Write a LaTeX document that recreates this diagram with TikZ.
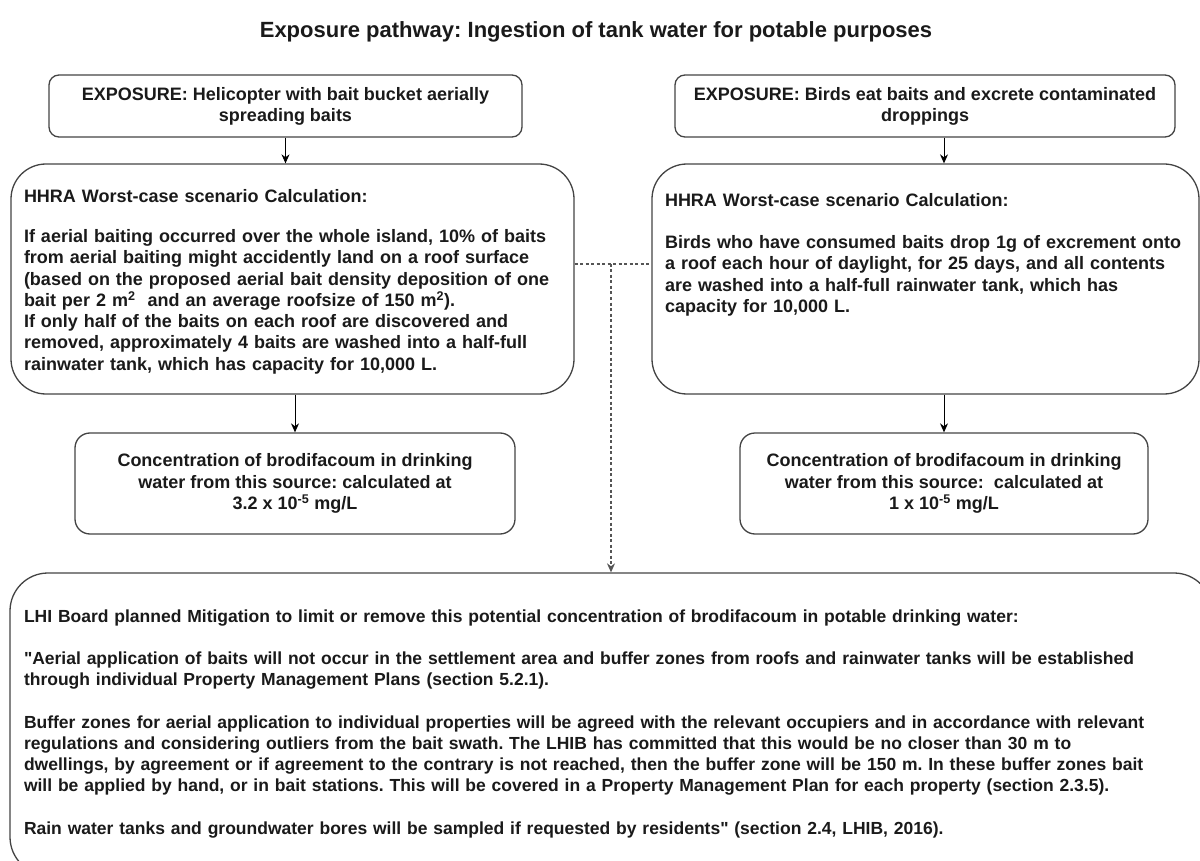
\documentclass[tikz,border=0pt]{standalone}
\usepackage{fontspec}
\setmainfont{Liberation Sans}
\frenchspacing
\usetikzlibrary{arrows.meta}

\definecolor{linegray}{HTML}{444444}
\definecolor{inkblack}{HTML}{1A1A1A}
\definecolor{dashgray}{HTML}{555555}

\tikzset{
  heading/.style={text=inkblack, font=\fontsize{22}{26}\selectfont\bfseries},
  box/.style={draw=linegray, line width=1.3pt, fill=white, text=inkblack,
    font=\fontsize{18}{21.2}\selectfont\bfseries},
  expbox/.style={box, rounded corners=10pt, align=center},
  calcbox/.style={box, rounded corners=35pt, align=left, inner xsep=13pt},
  concbox/.style={box, rounded corners=15pt, align=center},
  mitbox/.style={box, rounded corners=38pt, align=left, inner xsep=14pt,
    font=\fontsize{17.5}{21.2}\selectfont\bfseries},
  arr/.style={draw=black, line width=1pt, -{Stealth[length=9pt,width=8pt]}},
  dashline/.style={draw=dashgray, line width=1.2pt, dash pattern=on 3pt off 2.5pt}
}

\begin{document}
\begin{tikzpicture}[x=1pt, y=-1pt]
\fill[white] (0,0) rectangle (1200,861);
\useasboundingbox (0,0) rectangle (1200,861);

\node[heading] (title) at (596,32) {Exposure pathway: Ingestion of tank water for potable purposes};

% exposure boxes
\node[expbox, minimum width=473pt, minimum height=62pt] (exp1) at (285.5,106)
  {EXPOSURE: Helicopter with bait bucket aerially\\ spreading baits};
\node[expbox, minimum width=500pt, minimum height=62pt] (exp2) at (925,106)
  {EXPOSURE: Birds eat baits and excrete contaminated\\ droppings};

% worst-case calculations
\node[calcbox, minimum width=563pt, minimum height=230pt, text width=537pt] (hhra1) at (292.5,279)
  {\begin{tabular}{@{}l@{}}
   \rule{0pt}{20.8pt}HHRA Worst-case scenario Calculation:\\[19pt]
   If aerial baiting occurred over the whole island, 10\% of baits\\
   from aerial baiting might accidently land on a roof surface\\
   (based on the proposed aerial bait density deposition of one\\
   bait per 2 m\textsuperscript{2}~ and an average roofsize of 150 m\textsuperscript{2}).\\
   If only half of the baits on each roof are discovered and\\
   removed, approximately 4 baits are washed into a half-full\\
   rainwater tank, which has capacity for 10,000 L.
   \end{tabular}};
\node[calcbox, minimum width=547pt, minimum height=230pt, text width=521pt] (hhra2) at (925.5,279)
  {\begin{tabular}{@{}l@{}}
   HHRA Worst-case scenario Calculation:\\[21.2pt]
   Birds who have consumed baits drop 1g of excrement onto\\
   a roof each hour of daylight, for 25 days, and all contents\\
   are washed into a half-full rainwater tank, which has\\
   capacity for 10,000 L.\\[48pt]
   \end{tabular}};

% concentrations
\node[concbox, minimum width=440pt, minimum height=101pt] (conc1) at (295,483.5)
  {Concentration of brodifacoum in drinking\\ water from this source: calculated at\\ 3.2 x 10\textsuperscript{-5} mg/L};
\node[concbox, minimum width=408pt, minimum height=101pt] (conc2) at (944,483.5)
  {Concentration of brodifacoum in drinking\\ water from this source:\ \ calculated at\\ 1 x 10\textsuperscript{-5} mg/L};

% mitigation
\node[mitbox, minimum width=1202pt, minimum height=302pt, text width=1174pt] (mitig) at (611,724)
  {\begin{tabular}{@{}l@{}}
   LHI Board planned Mitigation to limit or remove this potential concentration of brodifacoum in potable drinking water:\\[21.2pt]
   \textquotedbl Aerial application of baits will not occur in the settlement area and buffer zones from roofs and rainwater tanks will be established\\
   through individual Property Management Plans (section 5.2.1).\\[21.2pt]
   Buffer zones for aerial application to individual properties will be agreed with the relevant occupiers and in accordance with relevant\\
   regulations and considering outliers from the bait swath. The LHIB has committed that this would be no closer than 30 m to\\
   dwellings, by agreement or if agreement to the contrary is not reached, then the buffer zone will be 150 m. In these buffer zones bait\\
   will be applied by hand, or in bait stations. This will be covered in a Property Management Plan for each property (section 2.3.5).\\[21.2pt]
   Rain water tanks and groundwater bores will be sampled if requested by residents\textquotedbl{} (section 2.4, LHIB, 2016).
   \end{tabular}};

% connectors
\draw[arr] (exp1.south) -- (exp1.south |- hhra1.north);
\draw[arr] (conc2.north |- exp2.south) -- (conc2.north |- hhra2.north);
\draw[arr] (conc1.north |- hhra1.south) -- (conc1.north);
\draw[arr] (conc2.north |- hhra2.south) -- (conc2.north);

\coordinate (split) at (611,264);
\draw[dashline] (hhra1.east |- split) -- (hhra2.west |- split);
\draw[dashline, -{Stealth[length=9pt,width=8pt]}] (split) -- (mitig.north);
\end{tikzpicture}
\end{document}
